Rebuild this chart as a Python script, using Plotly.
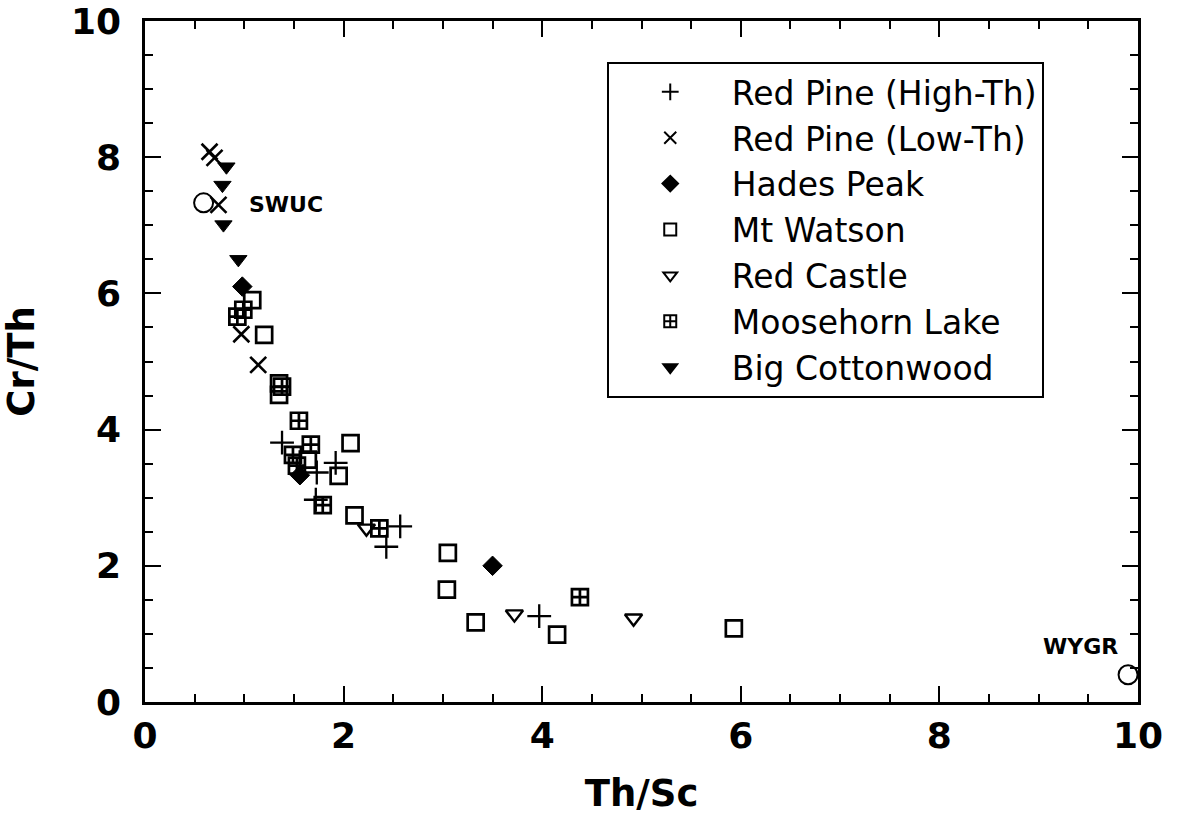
import plotly.graph_objects as go

# ---- data ----
red_pine_high_x = [1.38, 1.73, 1.92, 1.72, 2.57, 2.43, 3.97]
red_pine_high_y = [3.81, 3.37, 3.51, 2.97, 2.58, 2.28, 1.26]

red_pine_low_x = [0.65, 0.70, 0.74, 0.97, 1.14]
red_pine_low_y = [8.08, 7.99, 7.30, 5.40, 4.95]

hades_x = [0.98, 1.56, 3.50]
hades_y = [6.10, 3.33, 2.00]

mt_watson_x = [1.08, 1.20, 1.35, 1.35, 1.64, 2.07, 1.95, 2.11, 3.05, 3.04, 3.33, 4.15, 5.93]
mt_watson_y = [5.90, 5.39, 4.68, 4.51, 3.56, 3.80, 3.32, 2.74, 2.19, 1.65, 1.17, 0.99, 1.08]

red_castle_x = [2.23, 3.72, 4.92]
red_castle_y = [2.55, 1.29, 1.23]

moosehorn_x = [0.93, 0.99, 1.38, 1.55, 1.67, 1.49, 1.53, 1.79, 2.36, 4.38]
moosehorn_y = [5.66, 5.76, 4.63, 4.13, 3.78, 3.63, 3.47, 2.89, 2.55, 1.54]

big_cottonwood_x = [0.82, 0.78, 0.79, 0.94]
big_cottonwood_y = [7.86, 7.59, 7.01, 6.50]

ref_names = ["SWUC", "WYGR"]
ref_x = [0.59, 9.90]
ref_y = [7.33, 0.40]

series = [
    ("Red Pine (High-Th)", red_pine_high_x, red_pine_high_y, "cross-thin-open", 17, 2.3),
    ("Red Pine (Low-Th)", red_pine_low_x, red_pine_low_y, "x-thin-open", 16, 2.6),
    ("Hades Peak", hades_x, hades_y, "diamond", 15, 1),
    ("Mt Watson", mt_watson_x, mt_watson_y, "square-open", 16, 2.7),
    ("Red Castle", red_castle_x, red_castle_y, "triangle-down-open", 15, 2.4),
    ("Moosehorn Lake", moosehorn_x, moosehorn_y, "square-cross-open", 16, 2.7),
    ("Big Cottonwood", big_cottonwood_x, big_cottonwood_y, "triangle-down", 15, 1),
]

fig = go.Figure()
for name, xs, ys, sym, size, lw in series:
    fig.add_trace(go.Scatter(
        x=xs, y=ys, mode="markers", name=name,
        marker=dict(symbol=sym, size=size, color="black",
                    line=dict(color="black", width=lw)),
    ))

fig.add_trace(go.Scatter(
    x=ref_x, y=ref_y, mode="markers", showlegend=False,
    marker=dict(symbol="circle-open", size=19, color="black",
                line=dict(color="black", width=2)),
))

label_font = dict(family="DejaVu Sans", size=22, color="black", weight="bold")
fig.add_annotation(x=ref_x[0], y=ref_y[0], text="SWUC", showarrow=False,
                   xshift=82, yshift=-2, font=label_font)
fig.add_annotation(x=ref_x[1], y=ref_y[1], text="WYGR", showarrow=False,
                   xshift=-48, yshift=28, font=label_font)

axis_common = dict(
    range=[0, 10], dtick=2, tick0=0,
    showgrid=False, zeroline=False,
    showline=True, linecolor="black", linewidth=2.5, mirror="ticks",
    ticks="inside", ticklen=16, tickwidth=2, tickcolor="black",
    minor=dict(dtick=0.5, ticks="inside", ticklen=8, tickwidth=1.5, tickcolor="black"),
    tickfont=dict(family="DejaVu Sans", size=36, color="black", weight="bold"),
    ticklabeloverflow="allow", automargin=False,
)

fig.update_xaxes(**axis_common,
                 title=dict(text="Th/Sc", standoff=26,
                            font=dict(family="DejaVu Sans", size=37, color="black", weight="bold")))
fig.update_yaxes(**axis_common, ticklabelstandoff=14,
                 title=dict(text="Cr/Th", standoff=32,
                            font=dict(family="DejaVu Sans", size=37, color="black", weight="bold")))

fig.update_layout(
    width=1186, height=822,
    margin=dict(l=145, r=48, t=21, b=120),
    paper_bgcolor="white", plot_bgcolor="white",
    legend=dict(
        x=0.465, y=0.94, xanchor="left", yanchor="top",
        bgcolor="white", bordercolor="black", borderwidth=2,
        font=dict(family="DejaVu Sans", size=33, color="black"),
        itemsizing="constant", itemwidth=113,
    ),
)

fig.write_html("out.html", config={"displayModeBar": False},
               post_script="document.body.style.margin='0';")
